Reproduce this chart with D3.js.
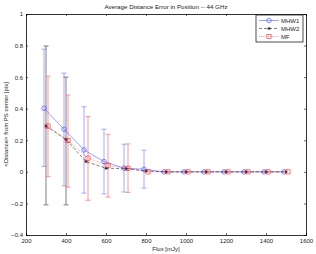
<!DOCTYPE html>
<html><head><meta charset="utf-8">
<script src="https://cdn.jsdelivr.net/npm/d3@7"></script>
<style>body{margin:0;background:#fff}svg{display:block}text{font-family:"Liberation Sans",Arial,sans-serif}</style>
</head><body><svg id="c" width="316" height="254"></svg>
<script>
const flux = [300,400,500,600,700,800,900,1000,1100,1200,1300,1400,1500];
const mhw1 = [0.403,0.27,0.139,0.065,0.023,0.017,0,0,0,0,0,0,0];
const mhw1Hi = [0.777,0.625,0.413,0.27,0.175,0.137,0,0,0,0,0,0,0];
const mhw1Lo = [0.034,-0.089,-0.135,-0.14,-0.128,-0.103,0,0,0,0,0,0,0];
const mhw2 = [0.29,0.205,0.065,0.023,0.02,0.005,0,0,0,0,0,0,0];
const mhw2Hi = [0.797,0.6,0.065,0.023,0.02,0.005,0,0,0,0,0,0,0];
const mhw2Lo = [-0.209,-0.209,0.065,0.023,0.02,0.005,0,0,0,0,0,0,0];
const mf = [0.29,0.198,0.087,0.04,0.023,0,0,0,0,0,0,0,0];
const mfHi = [0.606,0.487,0.35,0.238,0.177,0,0,0,0,0,0,0,0];
const mfLo = [-0.03,-0.097,-0.18,-0.16,-0.13,0,0,0,0,0,0,0,0];
const xTicks = [200,400,600,800,1000,1200,1400,1600];
const yTicks = [-0.4,-0.2,0,0.2,0.4,0.6,0.8,1];
const offsets = {MHW1:-10, MHW2:0, MF:10};

const svg = d3.select("#c");
const L=26,R=306,T=14,B=235;
const x = d3.scaleLinear().domain([200,1600]).range([L,R]);
const y = d3.scaleLinear().domain([-0.4,1]).range([B,T]);
const fmt = d => d===0?"0":(d===1?"1":d3.format(".1f")(d));

const ax = svg.append("g").attr("font-size",6).attr("fill","#000");
ax.append("g").attr("transform",`translate(0,${B})`).call(d3.axisBottom(x).tickValues(xTicks).tickSize(-2).tickPadding(4).tickFormat(d3.format("d")));
ax.append("g").attr("transform",`translate(0,${T})`).call(d3.axisTop(x).tickValues(xTicks).tickSize(-2).tickFormat(""));
ax.append("g").attr("transform",`translate(${L},0)`).call(d3.axisLeft(y).tickValues(yTicks).tickSize(-2).tickPadding(3).tickFormat(fmt));
ax.append("g").attr("transform",`translate(${R},0)`).call(d3.axisRight(y).tickValues(yTicks).tickSize(-2).tickFormat(""));
svg.selectAll(".domain").attr("stroke","#000").attr("stroke-width",0.8);
svg.selectAll(".tick line").attr("stroke","#000").attr("stroke-width",0.6);
svg.selectAll(".tick text").attr("font-size",6).attr("fill","#222");

const series = [
 {name:"MHW1", v:mhw1, hi:mhw1Hi, lo:mhw1Lo, color:"#3344ff", bar:"#8e9aff", dash:null, marker:"circle"},
 {name:"MHW2", v:mhw2, hi:mhw2Hi, lo:mhw2Lo, color:"#000000", bar:"#666666", dash:"3,2", marker:"star"},
 {name:"MF", v:mf, hi:mfHi, lo:mfLo, color:"#ff2020", bar:"#ff8080", dash:"1,1.2", marker:"square"}
];

const plot = svg.append("g");
series.forEach(s=>{
  const g = plot.append("g").attr("stroke",s.bar).attr("stroke-width",1.2).attr("stroke-opacity",0.7);
  flux.forEach((f,i)=>{
    if (s.hi[i]-s.lo[i] < 0.001) return;
    const xx = x(f+offsets[s.name]);
    g.append("line").attr("x1",xx).attr("x2",xx).attr("y1",y(s.lo[i])).attr("y2",y(s.hi[i]));
    [s.lo[i],s.hi[i]].forEach(v=>g.append("line").attr("x1",xx-2.5).attr("x2",xx+2.5).attr("y1",y(v)).attr("y2",y(v)));
  });
});

function drawMarker(g,type,cx,cy,color){
  if(type==="circle") g.append("circle").attr("cx",cx).attr("cy",cy).attr("r",2.3).attr("fill","none").attr("stroke",color).attr("stroke-width",0.6);
  else if(type==="square") g.append("rect").attr("x",cx-2.1).attr("y",cy-2.1).attr("width",4.2).attr("height",4.2).attr("fill","none").attr("stroke",color).attr("stroke-width",0.6);
  else {
    const r=1.7;
    [[0,1],[1,0],[0.7,0.7],[0.7,-0.7]].forEach(([a,b])=>g.append("line").attr("x1",cx-a*r).attr("x2",cx+a*r).attr("y1",cy-b*r).attr("y2",cy+b*r).attr("stroke",color).attr("stroke-width",0.55));
  }
}

series.forEach(s=>{
  const line = d3.line().x((d,i)=>x(flux[i]+offsets[s.name])).y(d=>y(d));
  plot.append("path").datum(s.v).attr("d",line).attr("fill","none").attr("stroke",s.color).attr("stroke-width",0.5).attr("stroke-dasharray",s.dash);
  const mg = plot.append("g");
  s.v.forEach((v,i)=>drawMarker(mg,s.marker,x(flux[i]+offsets[s.name]),y(v),s.color));
});

const lg = svg.append("g");
lg.append("rect").attr("x",256).attr("y",15).attr("width",47).attr("height",27).attr("fill","#fff").attr("stroke","#000").attr("stroke-width",0.7);
series.forEach((s,i)=>{
  const yy = 20.5+i*8;
  lg.append("line").attr("x1",259).attr("x2",279).attr("y1",yy).attr("y2",yy).attr("stroke",s.color).attr("stroke-width",0.5).attr("stroke-dasharray",s.dash);
  drawMarker(lg,s.marker,269,yy,s.color);
  lg.append("text").attr("x",281).attr("y",yy+2.2).attr("font-size",6).attr("fill","#222").text(s.name);
});

svg.append("text").attr("x",(L+R)/2).attr("y",9).attr("text-anchor","middle").attr("font-size",6.2).attr("fill","#222").text("Average Distance Error in Position -- 44 GHz");
svg.append("text").attr("x",(L+R)/2).attr("y",251).attr("text-anchor","middle").attr("font-size",6).attr("fill","#222").text("Flux [mJy]");
svg.append("text").attr("transform",`translate(8,${(T+B)/2}) rotate(-90)`).attr("text-anchor","middle").attr("font-size",6).attr("fill","#222").text("<Distance> from PS center [pix]");
</script></body></html>
